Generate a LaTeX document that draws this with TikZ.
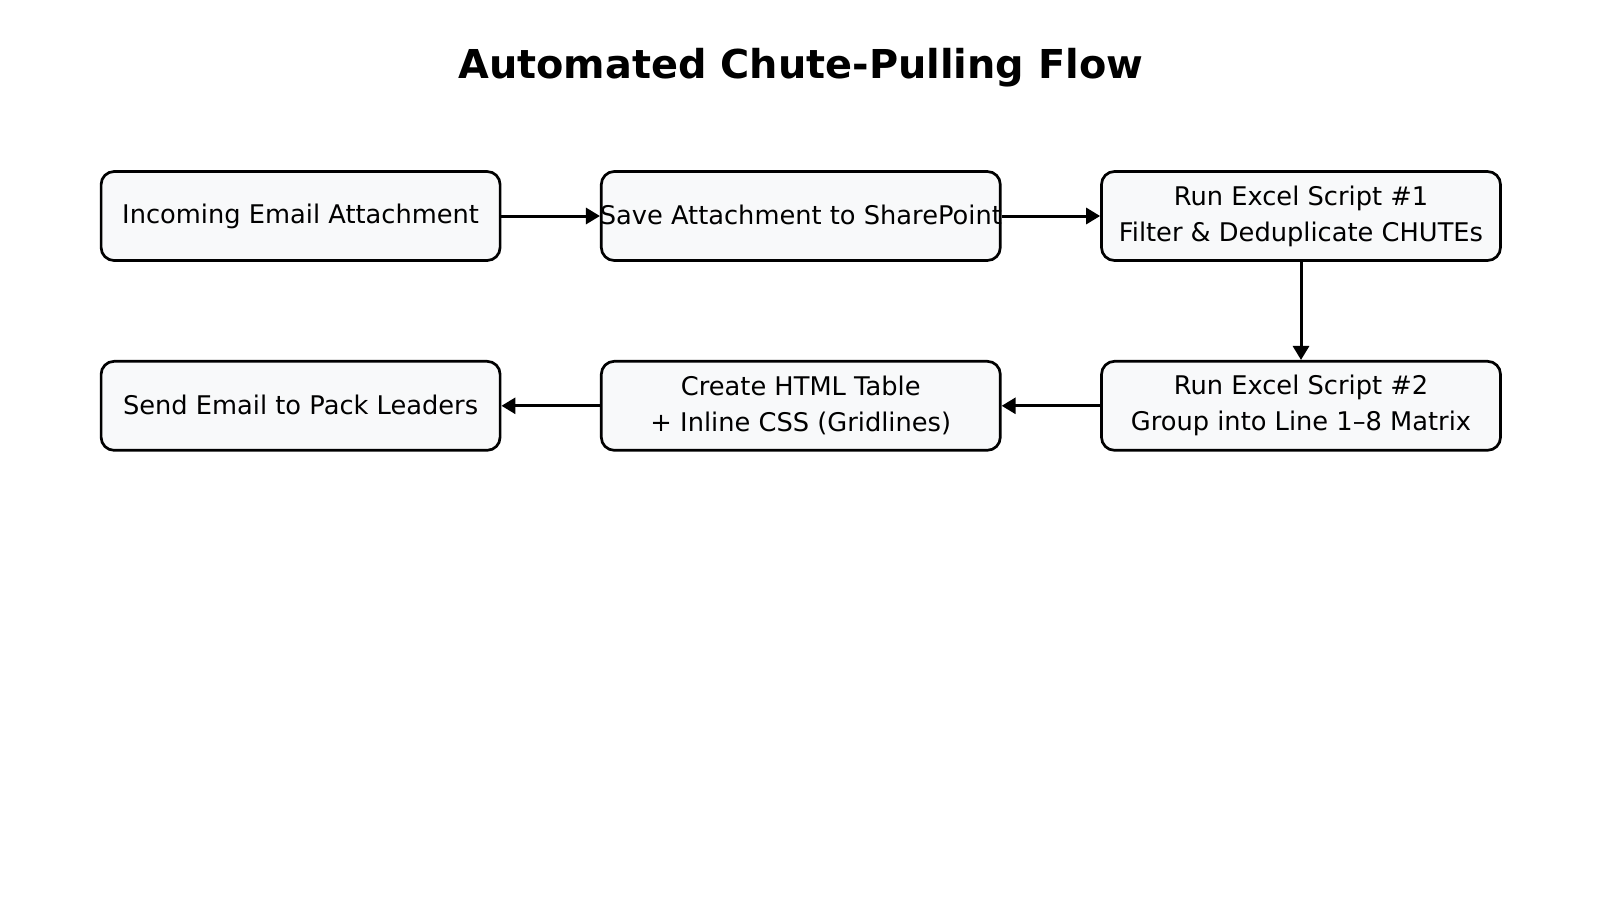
\documentclass[tikz,border=0pt]{standalone}
\usepackage{fontspec}
\setmainfont{DejaVu Sans}
\usetikzlibrary{arrows.meta}
\definecolor{boxfill}{HTML}{F8F9FA}
\begin{document}
\begin{tikzpicture}[x=0.5pt,y=-0.5pt,
  box/.style={draw=black, line width=1.35pt, fill=boxfill, rounded corners=6.5pt,
    minimum width=199.5pt, minimum height=44.5pt, inner sep=0pt, align=center,
    font=\fontsize{12.85}{18}\selectfont},
  flow/.style={-{Triangle[length=7pt,width=8pt]}, line width=1.5pt},
  titlestyle/.style={font=\fontsize{19.9}{24}\bfseries\selectfont, inner sep=0pt}]
\useasboundingbox (0,0) rectangle (1600,900);
\node[titlestyle] (title) at (800.8,68) {Automated Chute-Pulling Flow};
\node[box] (b1) at (300.6,216) {\raisebox{1.2pt}{Incoming Email Attachment}};
\node[box] (b2) at (800.8,216) {\raisebox{1.2pt}{\makebox[0pt]{Save Attachment to SharePoint}}};
\node[box] (b3) at (1301,216) {Run Excel Script \#1\\Filter \& Deduplicate CHUTEs};
\node[box] (b4) at (1301,405.8) {Run Excel Script \#2\\Group into Line 1–8 Matrix};
\node[box] (b5) at (800.8,405.8) {Create HTML Table\\+ Inline CSS (Gridlines)};
\node[box] (b6) at (300.6,405.8) {\raisebox{1.5pt}{Send Email to Pack Leaders}};
\draw[flow] (b1) -- (b2);
\draw[flow] (b2) -- (b3);
\draw[flow] (b3) -- (b4);
\draw[flow] (b4) -- (b5);
\draw[flow] (b5) -- (b6);
\end{tikzpicture}
\end{document}
